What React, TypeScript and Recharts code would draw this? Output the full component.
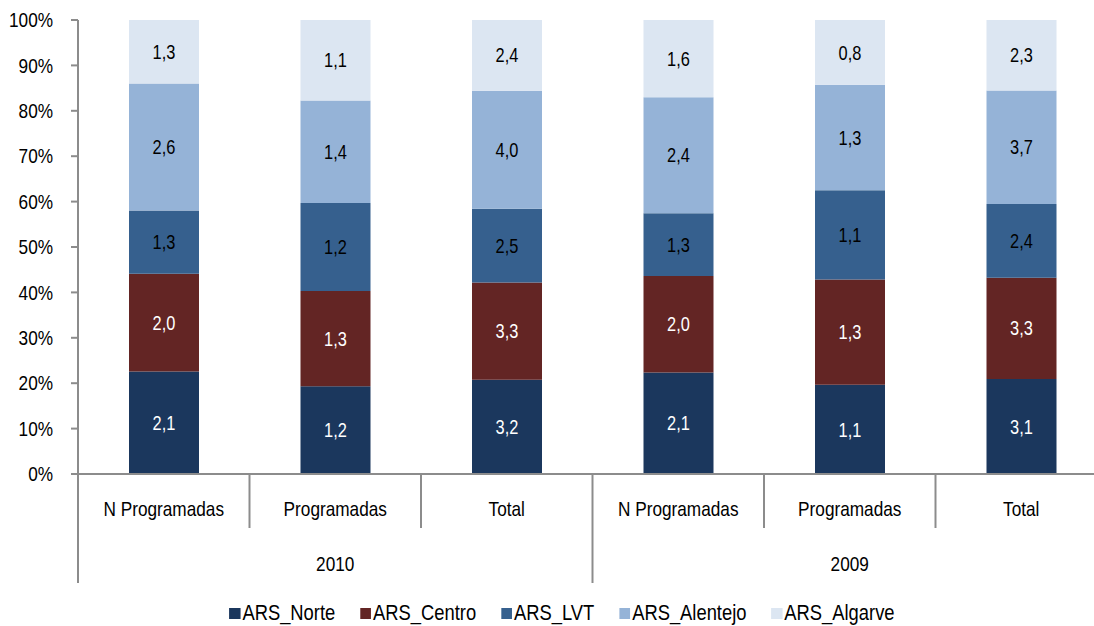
import React from "react";
import {
  BarChart,
  Bar,
  XAxis,
  YAxis,
  LabelList,
} from "recharts";

// categories on the two-level x axis
const categories = [
  "N Programadas",
  "Programadas",
  "Total",
  "N Programadas",
  "Programadas",
  "Total",
];
const years = ["2010", "2010", "2010", "2009", "2009", "2009"];

// series values (shares shown in the bars)
const norte = [2.1, 1.2, 3.2, 2.1, 1.1, 3.1];
const centro = [2.0, 1.3, 3.3, 2.0, 1.3, 3.3];
const lvt = [1.3, 1.2, 2.5, 1.3, 1.1, 2.4];
const alentejo = [2.6, 1.4, 4.0, 2.4, 1.3, 3.7];
const algarve = [1.3, 1.1, 2.4, 1.6, 0.8, 2.3];

const yTicks = [0, 0.1, 0.2, 0.3, 0.4, 0.5, 0.6, 0.7, 0.8, 0.9, 1];

const series = [
  { key: "norte", name: "ARS_Norte", color: "#1B375D", label: "#ffffff" },
  { key: "centro", name: "ARS_Centro", color: "#632524", label: "#ffffff" },
  { key: "lvt", name: "ARS_LVT", color: "#36608E", label: "#000000" },
  { key: "alentejo", name: "ARS_Alentejo", color: "#95B3D7", label: "#000000" },
  { key: "algarve", name: "ARS_Algarve", color: "#DCE6F2", label: "#000000" },
];

const data = categories.map((c, i) => ({
  id: `${years[i]}-${c}`,
  norte: norte[i],
  centro: centro[i],
  lvt: lvt[i],
  alentejo: alentejo[i],
  algarve: algarve[i],
}));

// no Arial Narrow here, so squeeze Liberation Sans horizontally
const FONT = '"Liberation Sans", Arial, sans-serif';
const SQUEEZE = 0.82;
const AXIS = "#8C8C8C";

const CHART_W = 1120;
const CHART_H = 626;
const MARGIN = { top: 20, right: 13, left: 0, bottom: 32 };
const Y_W = 78;
const BAND = (CHART_W - MARGIN.left - MARGIN.right - Y_W) / categories.length;

const fmt = (v: any) => Number(v).toFixed(1).replace(".", ",");

function NarrowText({ x, y, anchor = "middle", size = 21, fill = "#000", children }: any) {
  return (
    <text
      transform={`translate(${x},${y}) scale(${SQUEEZE},1)`}
      textAnchor={anchor}
      dominantBaseline="central"
      fontFamily={FONT}
      fontSize={size}
      fill={fill}
    >
      {children}
    </text>
  );
}

function YTick(props: any) {
  const { x, y, payload } = props;
  return (
    <NarrowText x={x} y={y} anchor="end">
      {`${Math.round(payload.value * 100)}%`}
    </NarrowText>
  );
}

function CategoryTick(props: any) {
  const { x, y, index } = props;
  const left = x - BAND / 2;
  const right = x + BAND / 2;
  const groupStart = index === 0 || years[index] !== years[index - 1];
  const last = index === categories.length - 1;
  const midOfGroup =
    years[index - 1] === years[index] && years[index + 1] === years[index];
  return (
    <g>
      <line
        x1={left}
        x2={left}
        y1={y}
        y2={y + (groupStart ? 109 : 54)}
        stroke={AXIS}
        strokeWidth={2}
      />
      {last && (
        <line x1={right} x2={right} y1={y} y2={y + 109} stroke={AXIS} strokeWidth={2} />
      )}
      <NarrowText x={x} y={y + 35}>
        {categories[index]}
      </NarrowText>
      {midOfGroup && <NarrowText x={x} y={y + 90}>{years[index]}</NarrowText>}
    </g>
  );
}

function barLabel(color: string) {
  return (props: any) => {
    const vb = props.viewBox ?? props;
    const cx = vb.x + vb.width / 2;
    const cy = vb.y + vb.height / 2;
    return (
      <NarrowText x={cx} y={cy} size={20} fill={color}>
        {fmt(props.value)}
      </NarrowText>
    );
  };
}

export default function App() {
  return (
    <div
      style={{
        position: "absolute",
        left: 0,
        top: 0,
        width: 1094,
        height: 626,
        overflow: "hidden",
        background: "#fff",
      }}
    >
      <BarChart
        width={CHART_W}
        height={CHART_H}
        data={data}
        margin={MARGIN}
        stackOffset="expand"
        barSize={70}
      >
        <YAxis
          width={Y_W}
          ticks={yTicks}
          domain={[0, 1]}
          interval={0}
          tick={<YTick />}
          tickSize={7}
          tickMargin={18}
          axisLine={{ stroke: AXIS, strokeWidth: 2 }}
          tickLine={{ stroke: AXIS, strokeWidth: 2 }}
        />
        <XAxis
          dataKey="id"
          height={120}
          interval={0}
          tickSize={0}
          tickMargin={0}
          tickLine={false}
          axisLine={{ stroke: AXIS, strokeWidth: 2 }}
          tick={<CategoryTick />}
        />
        {series.map((s) => (
          <Bar
            key={s.key}
            dataKey={s.key}
            name={s.name}
            stackId="a"
            fill={s.color}
            isAnimationActive={false}
          >
            <LabelList dataKey={s.key} content={barLabel(s.label)} />
          </Bar>
        ))}
      </BarChart>
      <div
        style={{
          position: "absolute",
          left: 0,
          width: 1124,
          top: 601,
          display: "flex",
          justifyContent: "center",
          transform: `scaleX(${SQUEEZE})`,
          transformOrigin: "562px 0",
          fontFamily: FONT,
          fontSize: 22.4,
          lineHeight: "24px",
          color: "#000",
          whiteSpace: "nowrap",
        }}
      >
        {series.map((s) => (
          <div
            key={s.key}
            style={{ display: "flex", alignItems: "center", margin: "0 15.2px" }}
          >
            <span
              style={{
                width: 13.4,
                height: 11,
                background: s.color,
                marginRight: 2.4,
                display: "inline-block",
              }}
            />
            {s.name}
          </div>
        ))}
      </div>
    </div>
  );
}
